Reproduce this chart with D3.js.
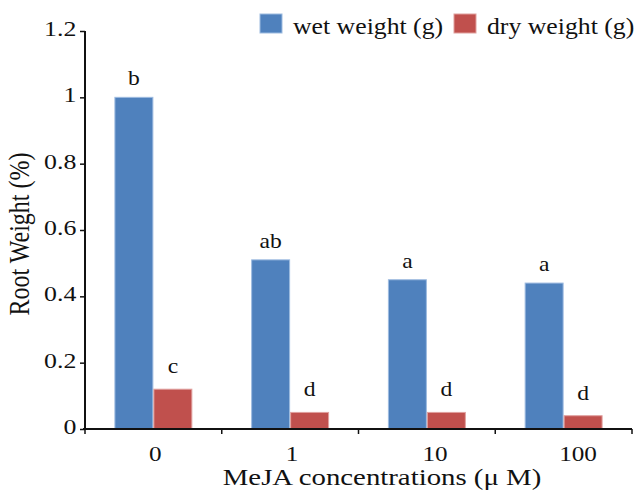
<!DOCTYPE html>
<html><head><meta charset="utf-8">
<script src="https://cdn.jsdelivr.net/npm/d3@7"></script>
<style>
html,body{margin:0;padding:0;background:#fff;}
text{font-family:"Liberation Serif","Times New Roman",serif;fill:#111;}
</style></head>
<body><svg id="c" width="635" height="492"></svg>
<script>
const categories = ["0", "1", "10", "100"];
const seriesNames = ["wet weight (g)", "dry weight (g)"];
const wetWeight = [1.0, 0.51, 0.45, 0.44];
const dryWeight = [0.12, 0.05, 0.05, 0.04];
const wetLetters = ["b", "ab", "a", "a"];
const dryLetters = ["c", "d", "d", "d"];
const yTicks = [0, 0.2, 0.4, 0.6, 0.8, 1, 1.2];
const colors = ["#4F81BD", "#C0504D"];
const strokes = ["#9dbbe0", "#e0a09e"];

const svg = d3.select("#c");
const mLeft = 85, mRight = 632, mTop = 31, mBottom = 429;
const SX = 1.2; // horizontal stretch of glyphs in the reference

function label(parent, x, yy, txt, size, anchor, sx) {
  return parent.append("text")
    .attr("transform", `translate(${x},${yy}) scale(${sx || SX},1)`)
    .attr("text-anchor", anchor || "start")
    .attr("font-size", size)
    .text(txt);
}

const x0 = d3.scaleBand().domain(categories).range([mLeft, mRight]).paddingInner(0.43).paddingOuter(0.215);
const x1 = d3.scaleBand().domain(seriesNames).range([0, x0.bandwidth()]);
const y = d3.scaleLinear().domain([0, 1.2]).range([mBottom, mTop]);

const rows = categories.map((c, i) => ({
  cat: c,
  vals: [
    {s: seriesNames[0], v: wetWeight[i], l: wetLetters[i], k: 0},
    {s: seriesNames[1], v: dryWeight[i], l: dryLetters[i], k: 1}
  ]
}));

const g = svg.append("g").selectAll("g").data(rows).join("g")
  .attr("transform", d => `translate(${x0(d.cat)},0)`);
g.selectAll("rect").data(d => d.vals).join("rect")
  .attr("x", d => x1(d.s) + 0.5)
  .attr("width", x1.bandwidth() - 1)
  .attr("y", d => y(d.v))
  .attr("height", d => y(0) - y(d.v))
  .attr("fill", d => colors[d.k])
  .attr("stroke", d => strokes[d.k])
  .attr("stroke-width", 1);
g.each(function(d) {
  const gg = d3.select(this);
  d.vals.forEach(v => {
    label(gg, x1(v.s) + x1.bandwidth() / 2, y(v.v) - (v.k === 0 ? 12 : 16), v.l, 20, "middle", 1.18);
  });
});

// Y axis
const yAxis = d3.axisLeft(y).tickValues(yTicks).tickFormat(d => String(+d.toFixed(1))).tickSize(5).tickPadding(2);
const ya = svg.append("g").attr("transform", `translate(${mLeft},0)`).call(yAxis);
ya.select(".domain").attr("stroke", "#111").attr("stroke-width", 2).attr("d", `M0,${mTop}V${mBottom}`);
ya.selectAll(".tick line").attr("stroke", "#111").attr("stroke-width", 1.5);
ya.selectAll(".tick text")
  .attr("font-family", "Liberation Serif, serif").attr("font-size", 21).attr("fill", "#111")
  .attr("dy", "0.22em")
  .attr("transform", `scale(1.23,1)`);

// X axis
const xa = svg.append("g").attr("transform", `translate(0,${mBottom})`);
xa.append("line").attr("x1", mLeft - 2).attr("x2", mRight).attr("y1", 0).attr("y2", 0)
  .attr("stroke", "#111").attr("stroke-width", 2);
const bounds = categories.map(c => x0(c) - x0.step() * 0.215).concat([mRight]);
xa.selectAll(".xt").data(bounds).join("line").attr("class", "xt")
  .attr("x1", d => d).attr("x2", d => d).attr("y1", 0).attr("y2", 5)
  .attr("stroke", "#111").attr("stroke-width", 1.5);
categories.forEach(c => {
  label(xa, x0(c) + x0.bandwidth() / 2 - 4.5, 32, c, 21, "start", 1.2);
});

// Axis titles
label(svg, 382, 485, "MeJA concentrations (\u03BC M)", 24, "middle", 1.2);
svg.append("text").attr("transform", "translate(29,234) scale(1.2,1) rotate(-90)")
  .attr("text-anchor", "middle").attr("font-size", 24).text("Root Weight (%)");

// Legend
const leg = svg.append("g");
const legX = [260, 454];
seriesNames.forEach((s, i) => {
  leg.append("rect").attr("x", legX[i]).attr("y", 14).attr("width", 22).attr("height", 19)
    .attr("fill", colors[i]).attr("stroke", strokes[i]);
  label(leg, legX[i] + 33, 34, s, 23, "start", 1.12);
});
</script></body></html>
